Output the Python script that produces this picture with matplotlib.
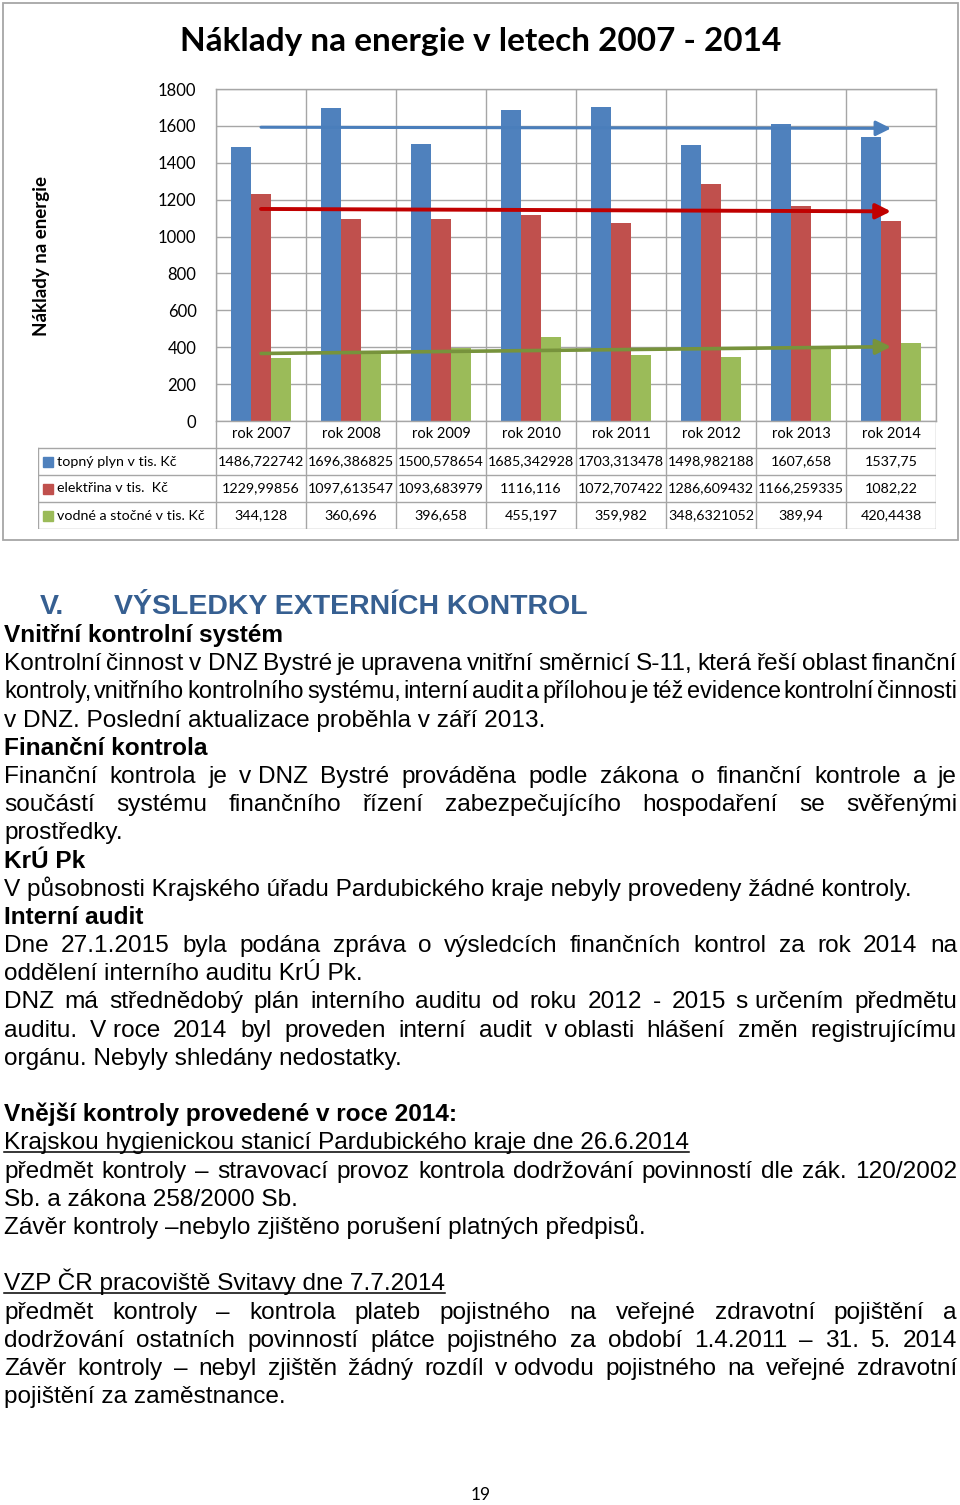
import numpy as np
import matplotlib
matplotlib.use('Agg')
import matplotlib.pyplot as plt
from matplotlib.lines import Line2D
from matplotlib.patches import Rectangle

# data grafu
roky = ['rok 2007', 'rok 2008', 'rok 2009', 'rok 2010', 'rok 2011', 'rok 2012', 'rok 2013', 'rok 2014']
topny_plyn = [1486.722742, 1696.386825, 1500.578654, 1685.342928, 1703.313478, 1498.982188, 1607.658, 1537.75]
elektrina = [1229.99856, 1097.613547, 1093.683979, 1116.116, 1072.707422, 1286.609432, 1166.259335, 1082.22]
vodne_stocne = [344.128, 360.696, 396.658, 455.197, 359.982, 348.6321052, 389.94, 420.4438]
nazvy_serii = ['topný plyn v tis. Kč', 'elektřina v tis.  Kč', 'vodné a stočné v tis. Kč']
osa_y = [0, 200, 400, 600, 800, 1000, 1200, 1400, 1600, 1800]

# text stranky (styl, radek)
nadpis_cislo = 'V.'
nadpis = 'VÝSLEDKY EXTERNÍCH KONTROL'
radky = [
    ('b', 'Vnitřní kontrolní systém'),
    ('j', 'Kontrolní činnost v\u00a0DNZ Bystré je upravena vnitřní směrnicí S-11, která řeší oblast finanční'),
    ('j', 'kontroly, vnitřního kontrolního systému, interní audit a přílohou je též evidence kontrolní činnosti'),
    ('n', 'v\u00a0DNZ. Poslední aktualizace proběhla v září 2013.'),
    ('b', 'Finanční kontrola'),
    ('j', 'Finanční kontrola je v\u00a0DNZ Bystré prováděna podle zákona o finanční kontrole a je'),
    ('j', 'součástí systému finančního řízení zabezpečujícího hospodaření se svěřenými'),
    ('n', 'prostředky.'),
    ('b', 'KrÚ Pk'),
    ('n', 'V působnosti Krajského úřadu Pardubického kraje nebyly provedeny žádné kontroly.'),
    ('b', 'Interní audit'),
    ('j', 'Dne 27.1.2015 byla podána zpráva o výsledcích finančních kontrol za rok 2014 na'),
    ('n', 'oddělení interního auditu KrÚ Pk.'),
    ('j', 'DNZ má střednědobý plán interního auditu od roku 2012 - 2015 s\u00a0určením předmětu'),
    ('j', 'auditu. V\u00a0roce 2014 byl proveden interní audit v\u00a0oblasti hlášení změn registrujícímu'),
    ('n', 'orgánu. Nebyly shledány nedostatky.'),
    ('n', ''),
    ('b', 'Vnější kontroly provedené v roce 2014:'),
    ('u', 'Krajskou hygienickou stanicí Pardubického kraje dne 26.6.2014'),
    ('j', 'předmět kontroly – stravovací provoz kontrola dodržování povinností dle zák. 120/2002'),
    ('n', 'Sb. a zákona 258/2000 Sb.'),
    ('n', 'Závěr kontroly –nebylo zjištěno porušení platných předpisů.'),
    ('n', ''),
    ('u', 'VZP ČR pracoviště Svitavy dne 7.7.2014'),
    ('j', 'předmět kontroly – kontrola plateb pojistného na veřejné zdravotní pojištění a'),
    ('j', 'dodržování ostatních povinností plátce pojistného za období 1.4.2011 – 31. 5. 2014'),
    ('j', 'Závěr kontroly – nebyl zjištěn žádný rozdíl v\u00a0odvodu pojistného na veřejné zdravotní'),
    ('n', 'pojištění za zaměstnance.'),
]
cislo_strany = '19'

W, H = 960, 1505
fig = plt.figure(figsize=(W / 100, H / 100), dpi=100)
fig.patch.set_facecolor('white')


def fx(px):
    return px / W


def fy(py):
    return 1 - py / H


graf_font = ['Lato', 'DejaVu Sans']
seda = '#A6A6A6'

# ramecek grafu
fig.patches.append(Rectangle((fx(3), fy(540)), fx(958) - fx(3), fy(3) - fy(540),
                             transform=fig.transFigure, fill=False, ec=seda, lw=1.3))

fig.text(fx(481), fy(42), 'Náklady na energie v letech 2007 - 2014', ha='center', va='center',
         fontsize=24, weight='bold', family=graf_font)
fig.text(fx(42), fy(256), 'Náklady na energie', rotation=90, ha='center', va='center',
         fontsize=13.5, weight='bold', family=graf_font)

ax = fig.add_axes([fx(216), fy(421), fx(936) - fx(216), fy(89) - fy(421)])
x = np.arange(len(roky))
bw = 2 / 9
barvy = ['#4F81BD', '#C0504D', '#9BBB59']
serie = [topny_plyn, elektrina, vodne_stocne]
for i, (vals, c) in enumerate(zip(serie, barvy)):
    ax.bar(x + (i - 1) * bw, vals, bw, color=c, zorder=2)

# linearni trendy
trend_barvy = ['#4A7EBB', '#C00000', '#77933C']
trend_lw = [2.2, 2.8, 2.6]
for vals, c, lw in zip(serie, trend_barvy, trend_lw):
    k = np.polyfit(x, vals, 1)
    ax.annotate('', xy=(x[-1], np.polyval(k, x[-1])), xytext=(x[0], np.polyval(k, x[0])),
                arrowprops=dict(arrowstyle='-|>,head_length=0.9,head_width=0.45', color=c, lw=lw,
                                shrinkA=0, shrinkB=0, mutation_scale=10), zorder=3)

ax.set_xlim(-0.5, len(roky) - 0.5)
ax.set_ylim(0, 1800)
ax.set_yticks(osa_y)
ax.set_yticklabels([str(v) for v in osa_y], family=graf_font, fontsize=12)
ax.set_xticks(np.arange(-0.5, len(roky), 1))
ax.set_xticklabels([])
ax.tick_params(length=0, pad=14)
ax.grid(True, color=seda, lw=1)
ax.set_axisbelow(True)
for s in ax.spines.values():
    s.set_color(seda)
    s.set_linewidth(1)

# datova tabulka
tab = fig.add_axes([fx(38), fy(529), fx(936) - fx(38), fy(421) - fy(529)])
xl = -0.5 - (216 - 38) / 90
tab.set_xlim(xl, len(roky) - 0.5)
tab.set_ylim(4, 0)
tab.axis('off')
for r in range(1, 5):
    tab.plot([xl, len(roky) - 0.5], [r, r], color=seda, lw=1)
tab.plot([xl, xl], [1, 4], color=seda, lw=1)
for k in range(len(roky) + 1):
    tab.plot([k - 0.5, k - 0.5], [0, 4], color=seda, lw=1)
for i, r in enumerate(roky):
    tab.text(i, 0.5, r, ha='center', va='center', fontsize=10.5, family=graf_font)
for j, (vals, nazev, c) in enumerate(zip(serie, nazvy_serii, barvy)):
    tab.plot([xl + 10 / 90], [j + 1.5], marker='s', ms=7, color=c, ls='none')
    tab.text(xl + 19 / 90, j + 1.5, nazev, ha='left', va='center', fontsize=10.3, family=graf_font)
    for i, v in enumerate(vals):
        tab.text(i, j + 1.5, str(v).replace('.', ','), ha='center', va='center',
                 fontsize=10.3, family=graf_font)

# text pod grafem
renderer = fig.canvas.get_renderer()
txt = dict(family='Liberation Sans', fontsize=17.6, va='baseline')


def sirka(s, **kw):
    t = fig.text(0, 0, s, **kw)
    w = t.get_window_extent(renderer).width
    t.remove()
    return w


fig.text(fx(40), fy(614), nadpis_cislo, color='#365F91', weight='bold', family='Liberation Sans',
         fontsize=20.5, va='baseline')
fig.text(fx(114), fy(614), nadpis, color='#365F91', weight='bold', family='Liberation Sans',
         fontsize=20.5, va='baseline')

x0, x1 = 4, 957
min_mezera = 3.5
for i, (styl, s) in enumerate(radky):
    if not s:
        continue
    base = 635 + 28.19 * i + 7
    kw = dict(txt)
    if styl == 'b':
        kw['weight'] = 'bold'
    if styl == 'j':
        slova = s.split(' ')
        w = [sirka(sl, **kw) for sl in slova]
        volno = x1 - x0 - (len(slova) - 1) * min_mezera
        if sum(w) > volno:
            kw['fontsize'] = kw['fontsize'] * volno / sum(w)
            w = [sirka(sl, **kw) for sl in slova]
        mezera = (x1 - x0 - sum(w)) / (len(slova) - 1)
        xp = x0
        for sl, ws in zip(slova, w):
            fig.text(fx(xp), fy(base), sl, **kw)
            xp += ws + mezera
    else:
        fig.text(fx(x0), fy(base), s, **kw)
        if styl == 'u':
            ws = sirka(s, **kw)
            fig.lines.append(Line2D([fx(x0), fx(x0 + ws)], [fy(base + 3)] * 2,
                                    transform=fig.transFigure, color='black', lw=1.1))

fig.text(fx(481), fy(1495), cislo_strany, ha='center', va='center', fontsize=12.5, family=graf_font)

fig.savefig('out.png', dpi=100)
